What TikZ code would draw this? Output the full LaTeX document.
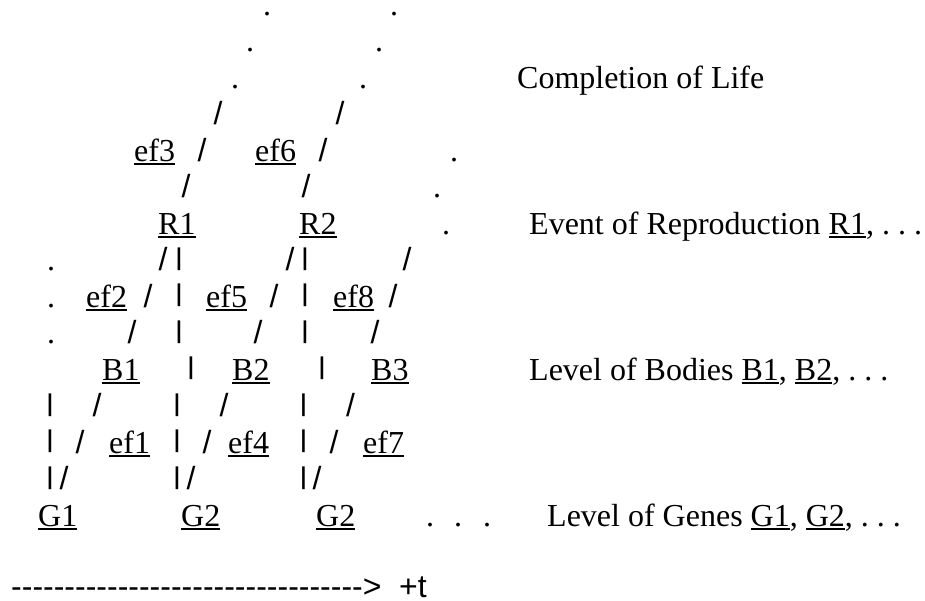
\documentclass[tikz,border=0pt]{standalone}
\usepackage{fontspec}
\usepackage{graphicx}
\usepackage{tikz}
\setmainfont{Liberation Serif}
\newfontfamily\symfont{Liberation Sans}
\newcommand{\bigrm}{\fontsize{32pt}{36pt}\selectfont\frenchspacing}
\newcommand{\bigsf}{\symfont\fontsize{32pt}{36pt}\selectfont}
\newsavebox{\undrbox}
\newcommand{\undr}[1]{\sbox{\undrbox}{#1}\rlap{\rule[-4pt]{\wd\undrbox}{2pt}}\usebox{\undrbox}}
\newcommand{\vbar}{\raisebox{5.1pt}{\scalebox{1}[0.76]{|}}}
\tikzset{
  lbl/.style={inner sep=0pt, anchor=base west, font=\bigrm},
  pdot/.style={inner sep=0pt, anchor=base, font=\bigrm, text height=4pt, text depth=0pt},
  glyph/.style={inner sep=0pt, anchor=base, font=\bigsf},
  axis/.style={inner sep=0pt, anchor=base west, font=\bigsf, text depth=0pt}
}

\begin{document}
\begin{tikzpicture}[x=1pt, y=-1pt]
  \useasboundingbox (0,0) rectangle (925,600);
  % completion of life
  \node[pdot] (d1a) at (267,15.5) {.};
  \node[pdot] (d1b) at (394,15.5) {.};
  \node[pdot] (d2a) at (250,51.5) {.};
  \node[pdot] (d2b) at (379,51.5) {.};
  \node[pdot] (d3a) at (235,88) {.};
  \node[pdot] (d3b) at (363,88) {.};
  \node[lbl] (life) at (517,88) {Completion of Life};
  \node[glyph] (s4a) at (218,124.5) {/};
  \node[glyph] (s4b) at (340,124.5) {/};
  \node[lbl] (ef3) at (134,161) {\undr{ef3}};
  \node[glyph] (s5a) at (202,161) {/};
  \node[lbl] (ef6) at (255,161) {\undr{ef6}};
  \node[glyph] (s5b) at (323,161) {/};
  \node[pdot] (d5) at (454,161) {.};
  \node[glyph] (s6a) at (186,197.5) {/};
  \node[glyph] (s6b) at (306,197.5) {/};
  \node[pdot] (d6) at (437,197.5) {.};
  % reproduction
  \node[lbl] (R1) at (158,234) {\undr{R1}};
  \node[lbl] (R2) at (299,234) {\undr{R2}};
  \node[pdot] (d7) at (446,234) {.};
  \node[lbl] (repro) at (529,234) {Event of Reproduction \undr{R1}, . . .};
  \node[pdot] (d8) at (51,270.5) {.};
  \node[glyph] (s8a) at (163,270.5) {/};
  \node[glyph] (b8a) at (179,270.5) {\vbar};
  \node[glyph] (s8b) at (290,270.5) {/};
  \node[glyph] (b8b) at (305,270.5) {\vbar};
  \node[glyph] (s8c) at (407,270.5) {/};
  \node[pdot] (d9) at (51,307) {.};
  \node[lbl] (ef2) at (86,307) {\undr{ef2}};
  \node[glyph] (s9a) at (148,307) {/};
  \node[glyph] (b9a) at (179,307) {\vbar};
  \node[lbl] (ef5) at (206,307) {\undr{ef5}};
  \node[glyph] (s9b) at (274,307) {/};
  \node[glyph] (b9b) at (305,307) {\vbar};
  \node[lbl] (ef8) at (333,307) {\undr{ef8}};
  \node[glyph] (s9c) at (393,307) {/};
  \node[pdot] (d10) at (51,343.5) {.};
  \node[glyph] (s10a) at (132,343.5) {/};
  \node[glyph] (b10a) at (179,343.5) {\vbar};
  \node[glyph] (s10b) at (258,343.5) {/};
  \node[glyph] (b10b) at (305,343.5) {\vbar};
  \node[glyph] (s10c) at (375,343.5) {/};
  % bodies
  \node[lbl] (B1) at (102,380) {\undr{B1}};
  \node[glyph] (b11a) at (191,380) {\vbar};
  \node[lbl] (B2) at (232,380) {\undr{B2}};
  \node[glyph] (b11b) at (322,380) {\vbar};
  \node[lbl] (B3) at (371,380) {\undr{B3}};
  \node[lbl] (bodies) at (529,380) {Level of Bodies \undr{B1}, \undr{B2}, . . .};
  \node[glyph] (b12a) at (50,416.5) {\vbar};
  \node[glyph] (s12a) at (97,416.5) {/};
  \node[glyph] (b12b) at (177,416.5) {\vbar};
  \node[glyph] (s12b) at (224,416.5) {/};
  \node[glyph] (b12c) at (303.5,416.5) {\vbar};
  \node[glyph] (s12c) at (350.5,416.5) {/};
  \node[glyph] (b13a) at (50,453) {\vbar};
  \node[glyph] (s13a) at (80,453) {/};
  \node[lbl] (ef1) at (109,453) {\undr{ef1}};
  \node[glyph] (b13b) at (177,453) {\vbar};
  \node[glyph] (s13b) at (207,453) {/};
  \node[lbl] (ef4) at (228,453) {\undr{ef4}};
  \node[glyph] (b13c) at (303.5,453) {\vbar};
  \node[glyph] (s13c) at (334,453) {/};
  \node[lbl] (ef7) at (363,453) {\undr{ef7}};
  \node[glyph] (b14a) at (50,489.5) {\vbar};
  \node[glyph] (s14a) at (64,489.5) {/};
  \node[glyph] (b14b) at (177,489.5) {\vbar};
  \node[glyph] (s14b) at (191,489.5) {/};
  \node[glyph] (b14c) at (303.5,489.5) {\vbar};
  \node[glyph] (s14c) at (317,489.5) {/};
  % genes
  \node[lbl] (G1) at (38,526) {\undr{G1}};
  \node[lbl] (G2) at (181,526) {\undr{G2}};
  \node[lbl] (G3) at (316,526) {\undr{G2}};
  \node[pdot] (d15a) at (430,526) {.};
  \node[pdot] (d15b) at (458,526) {.};
  \node[pdot] (d15c) at (487,526) {.};
  \node[lbl] (genes) at (547,526) {Level of Genes \undr{G1}, \undr{G2}, . . .};
  % time axis
  \node[axis] (taxis) at (11,597) {\foreach \i in {1,...,33}{-\kern0pt}>};
  \node[axis] (tlbl) at (399,597) {+t};
\end{tikzpicture}
\end{document}
